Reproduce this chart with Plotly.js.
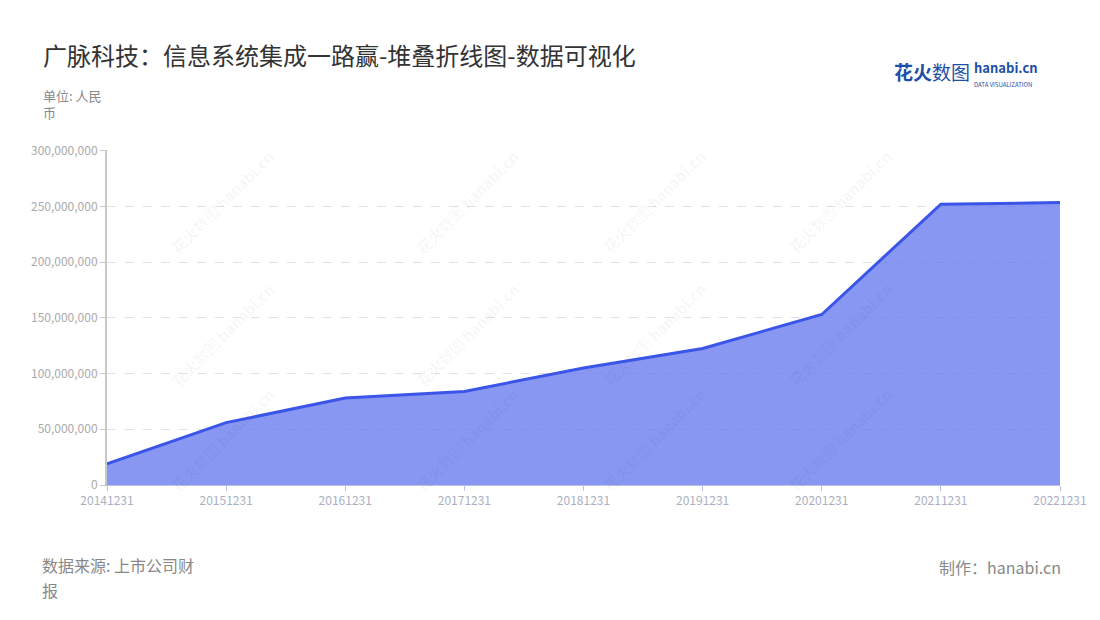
<!DOCTYPE html>
<html>
<head>
<meta charset="utf-8">
<script src="https://cdn.plot.ly/plotly-3.0.1.min.js"></script>
<style>
  html, body { margin: 0; padding: 0; background: #fff; }
  #chart { width: 1100px; height: 620px; }
</style>
</head>
<body>
<div id="chart"></div>
<script>
// ─── Data ───
const periods = ["20141231", "20151231", "20161231", "20171231", "20181231",
  "20191231", "20201231", "20211231", "20221231"];
const revenue = [19000000, 56000000, 78000000, 84000000, 105000000,
  122500000, 153000000, 252000000, 253400000];
const yTicks = [0, 50000000, 100000000, 150000000, 200000000, 250000000, 300000000];

const font = '"Noto Sans CJK SC", "Noto Sans", sans-serif';

// ─── Watermarks ───
const marks = [];
const markX = [0.06, 0.317, 0.574, 0.831];
const markY = [1.02, 0.45, -0.04];
for (const mx of markX) {
  for (const my of markY) {
    marks.push({
      xref: "paper", yref: "paper", x: mx, y: my,
      text: "<b>花火</b>数图 <b>hanabi.cn</b>", showarrow: false, textangle: -45,
      font: { family: font, size: 15, color: "rgba(0,0,0,0.05)" },
    });
  }
}

const trace = {
  x: periods,
  y: revenue,
  type: "scatter",
  mode: "lines",
  fill: "tozeroy",
  fillcolor: "rgba(102,122,238,0.78)",
  line: { color: "#3a55e8", width: 3 },
  hoverinfo: "x+y",
};

const layout = {
  width: 1100,
  height: 620,
  paper_bgcolor: "#fff",
  plot_bgcolor: "#fff",
  font: { family: font, color: "#999" },
  margin: { l: 107, r: 40, t: 150, b: 135 },
  showlegend: false,
  xaxis: {
    type: "category",
    range: [0, periods.length - 1],
    showgrid: false,
    showline: true,
    linecolor: "#b8c2e6",
    linewidth: 1,
    ticks: "outside",
    ticklen: 5,
    tickcolor: "#b8c2e6",
    tickfont: { family: font, size: 12, color: "#aab0c2" },
    zeroline: false,
  },
  yaxis: {
    range: [0, 300600000],
    tickvals: yTicks,
    tickformat: ",d",
    showgrid: true,
    gridcolor: "#e2e2e2",
    griddash: "dash",
    showline: true,
    linecolor: "#c8c8c8",
    linewidth: 2,
    ticks: "outside",
    ticklen: 5,
    tickcolor: "#c8c8c8",
    tickfont: { family: font, size: 12, color: "#aaa" },
    zeroline: false,
  },
  annotations: marks.concat([
    {
      xref: "paper", yref: "paper", x: -0.069, y: 1.284, xanchor: "left", yanchor: "middle",
      text: "广脉科技：信息系统集成一路赢-堆叠折线图-数据可视化", showarrow: false,
      font: { family: font, size: 24, color: "#333" },
    },
    {
      xref: "paper", yref: "paper", x: -0.069, y: 1.137, xanchor: "left", yanchor: "middle",
      text: "单位: 人民<br>币", showarrow: false, align: "left",
      font: { family: font, size: 13, color: "#888" },
    },
    {
      xref: "paper", yref: "paper", x: -0.069, y: -0.24, xanchor: "left", yanchor: "middle",
      text: "数据来源: 上市公司财", showarrow: false, borderpad: 0,
      font: { family: font, size: 16, color: "#888" },
    },
    {
      xref: "paper", yref: "paper", x: -0.069, y: -0.314, xanchor: "left", yanchor: "middle",
      text: "报", showarrow: false, borderpad: 0,
      font: { family: font, size: 16, color: "#888" },
    },
    {
      xref: "paper", yref: "paper", x: 1.003, y: -0.246, xanchor: "right", yanchor: "middle",
      text: "制作：hanabi.cn", showarrow: false,
      font: { family: font, size: 16, color: "#888" },
    },
    {
      xref: "paper", yref: "paper", x: 0.824, y: 1.233, xanchor: "left", yanchor: "middle",
      text: "<b>花火</b>数图", showarrow: false,
      font: { family: font, size: 19, color: "#1d4fa8" },
    },
    {
      xref: "paper", yref: "paper", x: 0.909, y: 1.215, xanchor: "left", yanchor: "bottom",
      text: "<b>hanabi.cn</b>", showarrow: false, borderpad: 0,
      font: { family: font, size: 13, color: "#1d4fa8" },
    },
    {
      xref: "paper", yref: "paper", x: 0.909, y: 1.212, xanchor: "left", yanchor: "top",
      text: "DATA VISUALIZATION", showarrow: false, borderpad: 0,
      font: { family: font, size: 6, color: "#1d4fa8" },
    },
  ]),
};

Plotly.newPlot("chart", [trace], layout, { displayModeBar: false, responsive: false });
</script>
</body>
</html>
